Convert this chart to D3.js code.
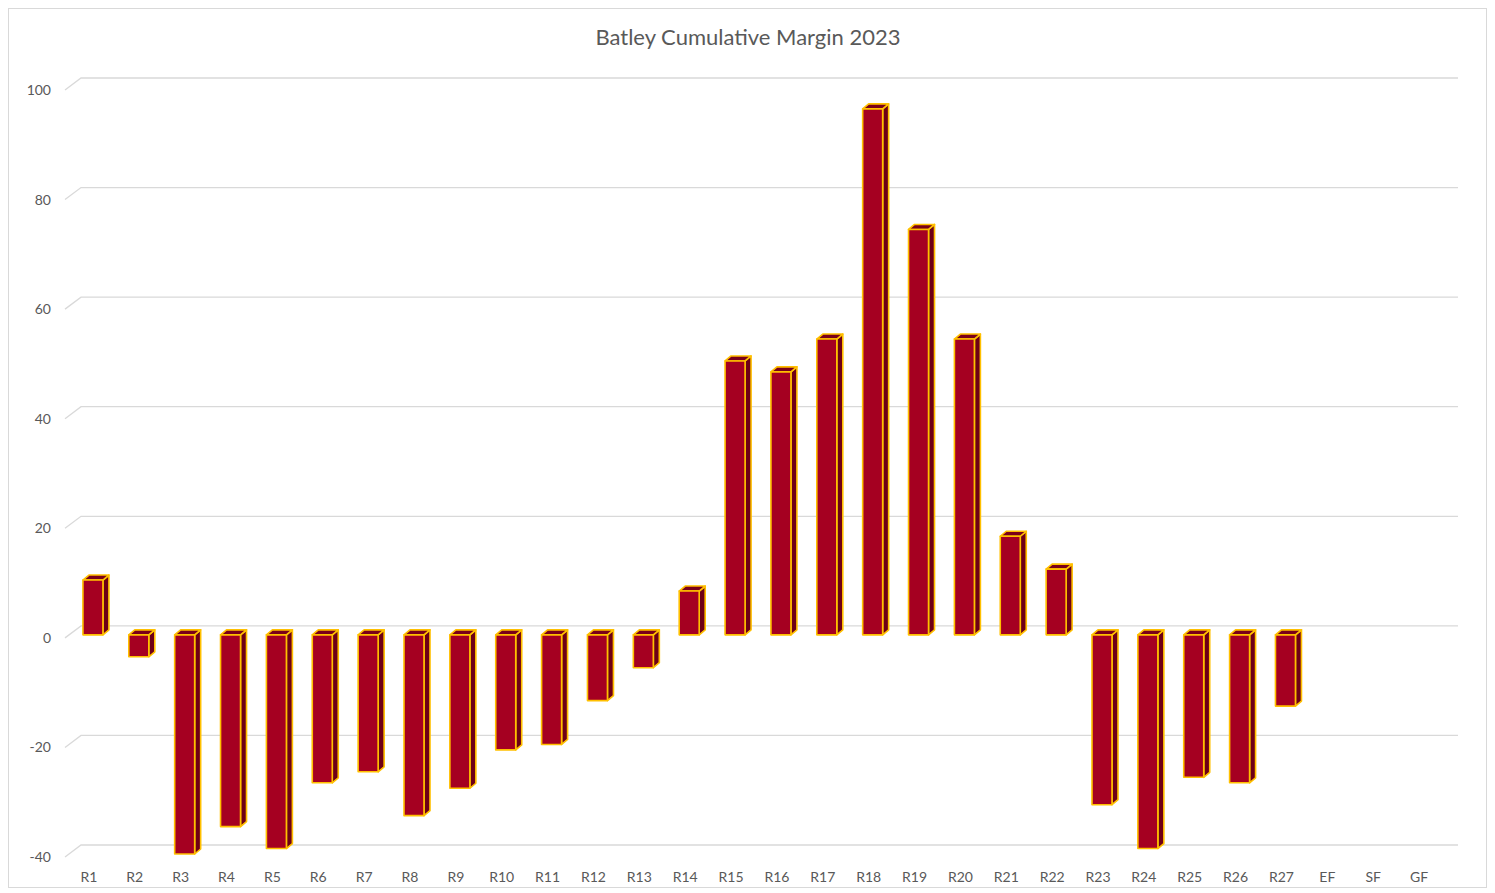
<!DOCTYPE html>
<html>
<head>
<meta charset="utf-8">
<script src="https://cdn.jsdelivr.net/npm/d3@7"></script>
<style>
  body { margin: 0; background: #fff; }
  svg text { font-family: Lato, "Open Sans", sans-serif; fill: #595959; }
</style>
</head>
<body>
<svg width="1495" height="893"></svg>
<script>
// rounds and cumulative margin (EF, SF, GF not played)
const rounds = ["R1","R2","R3","R4","R5","R6","R7","R8","R9","R10","R11","R12","R13","R14","R15",
  "R16","R17","R18","R19","R20","R21","R22","R23","R24","R25","R26","R27","EF","SF","GF"];
const margins = [10,-4,-40,-35,-39,-27,-25,-33,-28,-21,-20,-12,-6,8,50,
  48,54,96,74,54,18,12,-31,-39,-26,-27,-13,null,null,null];
const yTicks = [-40,-20,0,20,40,60,80,100];

const svg = d3.select("svg");
const W = +svg.attr("width"), H = +svg.attr("height");

// chart border
svg.append("rect")
  .attr("x", 8.5).attr("y", 8.5)
  .attr("width", W - 17).attr("height", H - 14)
  .attr("fill", "#fff").attr("stroke", "#d9d9d9");

svg.append("text")
  .attr("x", 748).attr("y", 45)
  .attr("text-anchor", "middle")
  .attr("font-size", "22px")
  .text("Batley Cumulative Margin 2023");

// front plane scales
const x = d3.scaleBand().domain(rounds).range([66, 1442]);
const y = d3.scaleLinear().domain([-40, 100]).range([857, 90]);

// depth offsets (3D look)
const back = { dx: 16, dy: -12 };
const barFront = { dx: 4, dy: -3 };
const barDepth = { dx: 6, dy: -5 };

// gridlines: side diagonal + back wall line
const grid = svg.append("g").attr("stroke", "#d9d9d9").attr("stroke-width", 1.3).attr("fill", "none");
yTicks.forEach(t => {
  const yf = y(t), yb = y(t) + back.dy;
  grid.append("path")
    .attr("d", `M${x.range()[0] - 1},${yf}L${x.range()[0] + back.dx - 1},${yb}H${x.range()[1] + back.dx}`);
});

// y labels
svg.append("g").selectAll("text")
  .data(yTicks).enter().append("text")
  .attr("x", 51).attr("y", d => y(d) + 5)
  .attr("text-anchor", "end")
  .attr("font-size", "14px")
  .text(d => d);

// x labels
svg.append("g").selectAll("text")
  .data(rounds).enter().append("text")
  .attr("x", d => x(d) + x.bandwidth() / 2)
  .attr("y", 882)
  .attr("text-anchor", "middle")
  .attr("font-size", "14px")
  .text(d => d);

// bars as boxes
const bw = 20;
const bars = svg.append("g")
  .attr("stroke", "#FFC000").attr("stroke-width", 1.6).attr("stroke-linejoin", "round")
  .selectAll("g")
  .data(rounds.map((r, i) => ({ r, v: margins[i] })).filter(d => d.v != null))
  .enter().append("g");

function geom(d) {
  const cx = x(d.r) + x.bandwidth() / 2 + barFront.dx;
  const x0 = cx - bw / 2, x1 = cx + bw / 2;
  const yTop = y(Math.max(0, d.v)) + barFront.dy;
  const yBot = y(Math.min(0, d.v)) + barFront.dy;
  return { x0, x1, yTop, yBot };
}

bars.append("polygon")
  .attr("fill", "#6E0016")
  .attr("points", d => {
    const g = geom(d);
    return [[g.x1, g.yTop], [g.x1 + barDepth.dx, g.yTop + barDepth.dy],
      [g.x1 + barDepth.dx, g.yBot + barDepth.dy], [g.x1, g.yBot]].join(" ");
  });

bars.append("polygon")
  .attr("fill", "#7A0019")
  .attr("points", d => {
    const g = geom(d);
    return [[g.x0, g.yTop], [g.x0 + barDepth.dx, g.yTop + barDepth.dy],
      [g.x1 + barDepth.dx, g.yTop + barDepth.dy], [g.x1, g.yTop]].join(" ");
  });

bars.append("rect")
  .attr("fill", "#A50021")
  .attr("x", d => geom(d).x0)
  .attr("y", d => geom(d).yTop)
  .attr("width", bw)
  .attr("height", d => geom(d).yBot - geom(d).yTop);
</script>
</body>
</html>
